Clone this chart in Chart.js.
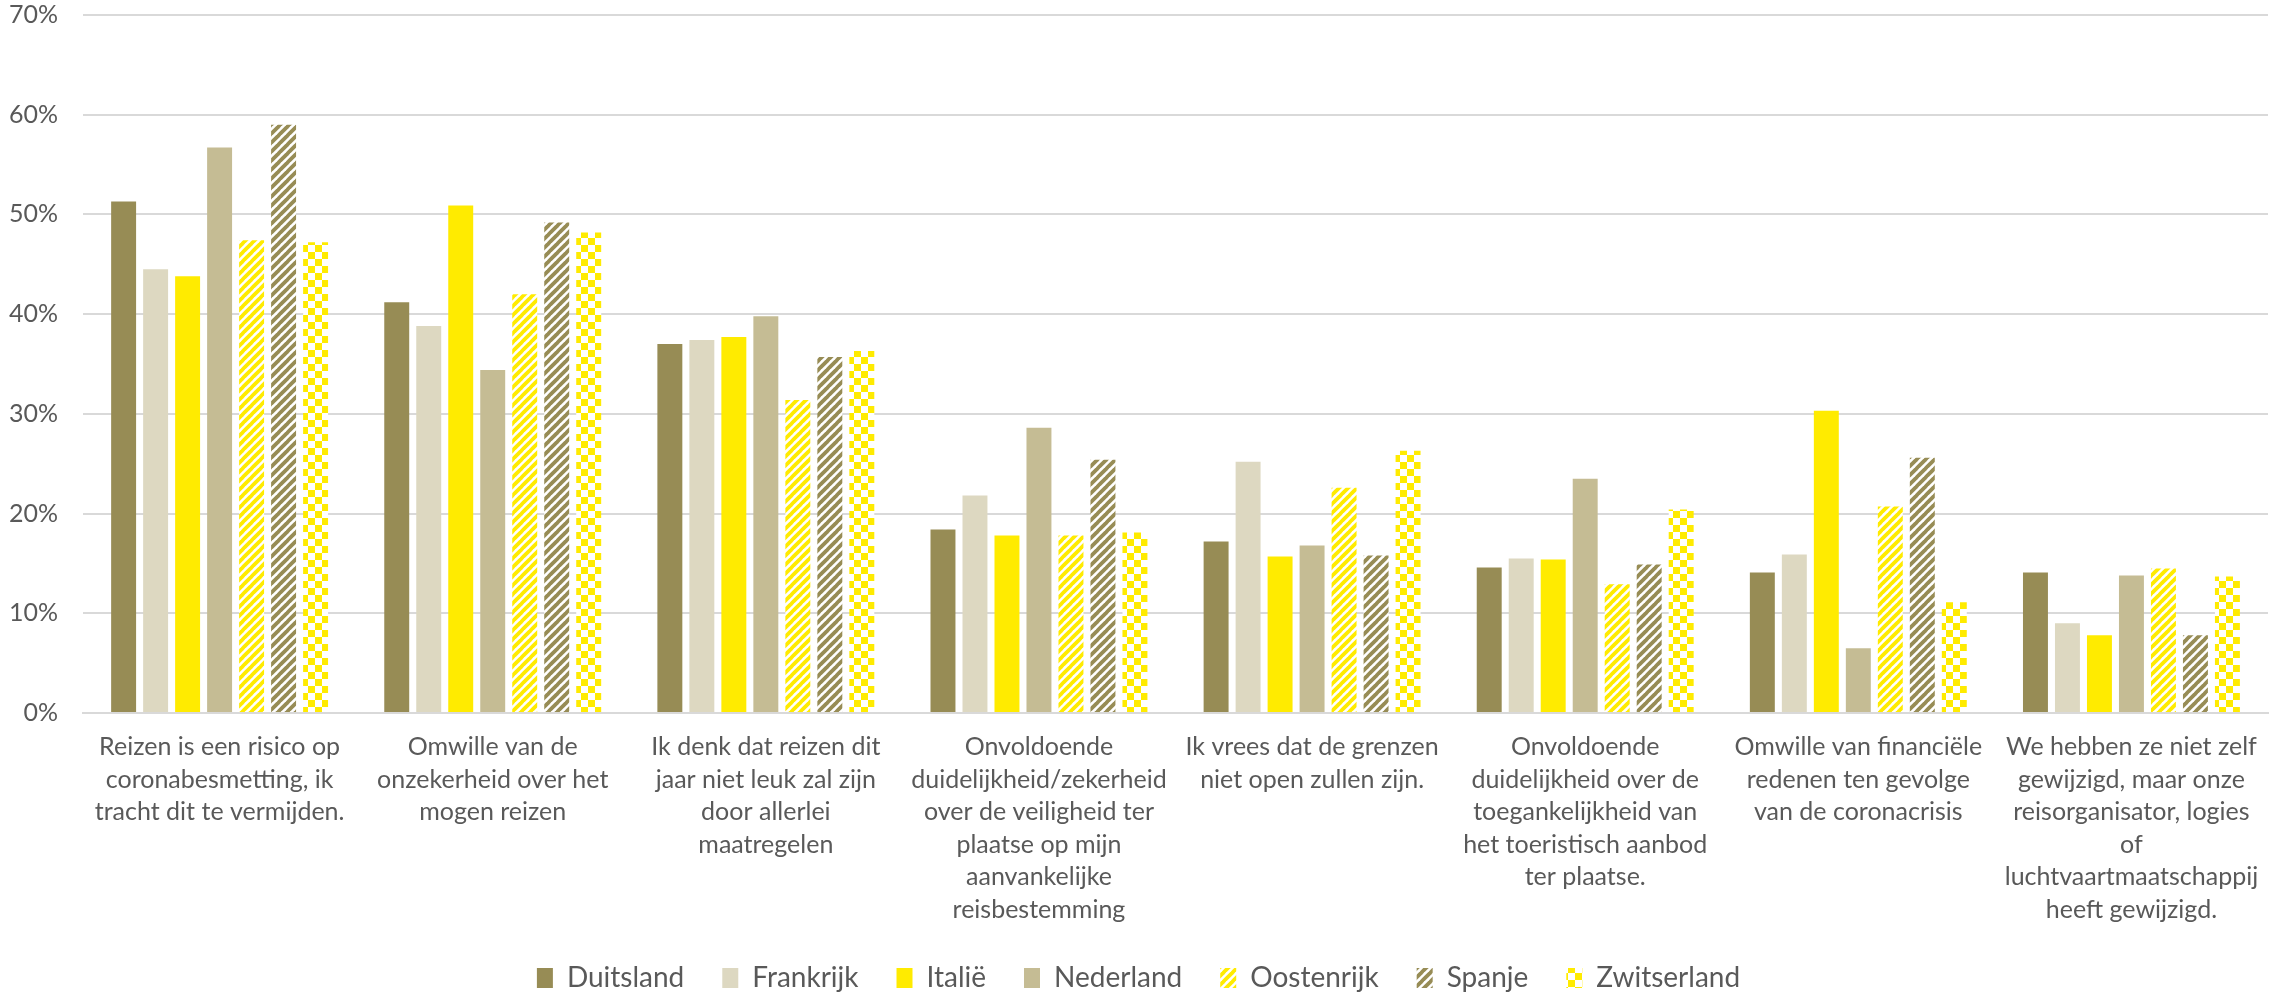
<!DOCTYPE html>
<html>
<head>
<meta charset="utf-8">
<script src="https://cdn.jsdelivr.net/npm/chart.js@4.4.0/dist/chart.umd.min.js"></script>
<style>
  body { margin: 0; background: #fff; }
</style>
</head>
<body>
<canvas id="redenen-chart" width="2289" height="994"></canvas>
<script>
// categories (one array per wrapped label)
var categories = [
  ["Reizen is een risico op", "coronabesmetting, ik", "tracht dit te vermijden."],
  ["Omwille van de", "onzekerheid over het", "mogen reizen"],
  ["Ik denk dat reizen dit", "jaar niet leuk zal zijn", "door allerlei", "maatregelen"],
  ["Onvoldoende", "duidelijkheid/zekerheid", "over de veiligheid ter", "plaatse op mijn", "aanvankelijke", "reisbestemming"],
  ["Ik vrees dat de grenzen", "niet open zullen zijn."],
  ["Onvoldoende", "duidelijkheid over de", "toegankelijkheid van", "het toeristisch aanbod", "ter plaatse."],
  ["Omwille van financiële", "redenen ten gevolge", "van de coronacrisis"],
  ["We hebben ze niet zelf", "gewijzigd, maar onze", "reisorganisator, logies", "of", "luchtvaartmaatschappij", "heeft gewijzigd."]
];

// percentages per country
var duitsland   = [51.3, 41.2, 37.0, 18.4, 17.2, 14.6, 14.1, 14.1];
var frankrijk   = [44.5, 38.8, 37.4, 21.8, 25.2, 15.5, 15.9, 9.0];
var italie      = [43.8, 50.9, 37.7, 17.8, 15.7, 15.4, 30.3, 7.8];
var nederland   = [56.7, 34.4, 39.8, 28.6, 16.8, 23.5, 6.5, 13.8];
var oostenrijk  = [47.4, 42.0, 31.4, 17.8, 22.6, 12.9, 20.7, 14.5];
var spanje      = [59.0, 49.2, 35.7, 25.4, 15.8, 14.9, 25.6, 7.8];
var zwitserland = [47.2, 48.2, 36.3, 18.1, 26.3, 20.4, 11.1, 13.7];

var yTicksMax = 70;
var yTicksStep = 10;

var olive = "#978C55";
var sand = "#DDD8C1";
var yellow = "#FFEB00";
var khaki = "#C5BC94";

var ctx = document.getElementById("redenen-chart").getContext("2d");

// wide upward diagonal stripes on white
function stripes(color) {
  var c = document.createElement("canvas");
  c.width = 9; c.height = 9;
  var g = c.getContext("2d");
  g.fillStyle = "#fff";
  g.fillRect(0, 0, 9, 9);
  g.strokeStyle = color;
  g.lineWidth = 3.8;
  for (var o = -9; o <= 9; o += 9) {
    g.beginPath();
    g.moveTo(o - 1, 10);
    g.lineTo(o + 10, -1);
    g.stroke();
  }
  return ctx.createPattern(c, "repeat");
}

// large checkerboard
function checks(color) {
  var c = document.createElement("canvas");
  c.width = 14; c.height = 14;
  var g = c.getContext("2d");
  g.fillStyle = "#fff";
  g.fillRect(0, 0, 14, 14);
  g.fillStyle = color;
  g.fillRect(0, 0, 7, 7);
  g.fillRect(7, 7, 7, 7);
  return ctx.createPattern(c, "repeat");
}

var textColor = "#595959";
var fontFamily = "Lato, 'Open Sans', sans-serif";

var myNewChart = new Chart(ctx, {
  type: "bar",
  data: {
    labels: categories,
    datasets: [
      { label: "Duitsland", data: duitsland, backgroundColor: olive },
      { label: "Frankrijk", data: frankrijk, backgroundColor: sand },
      { label: "Italië", data: italie, backgroundColor: yellow },
      { label: "Nederland", data: nederland, backgroundColor: khaki },
      { label: "Oostenrijk", data: oostenrijk, backgroundColor: stripes(yellow) },
      { label: "Spanje", data: spanje, backgroundColor: stripes(olive) },
      { label: "Zwitserland", data: zwitserland, backgroundColor: checks(yellow) }
    ]
  },
  options: {
    responsive: false,
    animation: false,
    layout: { padding: { top: 5, left: 9, right: 21, bottom: -8 } },
    datasets: {
      bar: { categoryPercentage: 0.82, barPercentage: 0.78 }
    },
    scales: {
      x: {
        // invisible tick marks give the gap under the axis
        grid: { display: true, drawOnChartArea: false, drawTicks: true, tickLength: 18, tickColor: "transparent" },
        border: { color: "#D9D9D9", width: 2 },
        ticks: {
          color: textColor,
          font: { family: fontFamily, size: 25, lineHeight: 1.3 },
          padding: 0,
          maxRotation: 0,
          autoSkip: false
        }
      },
      y: {
        min: 0,
        max: yTicksMax,
        grid: { color: "#D9D9D9", lineWidth: 2, drawTicks: true, tickLength: 25, tickColor: "transparent" },
        border: { display: false },
        ticks: {
          stepSize: yTicksStep,
          color: textColor,
          padding: 0,
          font: { family: fontFamily, size: 25 },
          callback: function(v) { return v + "%"; }
        }
      }
    },
    plugins: {
      tooltip: { enabled: false },
      legend: {
        position: "bottom",
        labels: {
          color: textColor,
          font: { family: fontFamily, size: 28 },
          boxWidth: 16,
          boxHeight: 20,
          padding: 38
        }
      }
    }
  }
});
</script>
</body>
</html>
